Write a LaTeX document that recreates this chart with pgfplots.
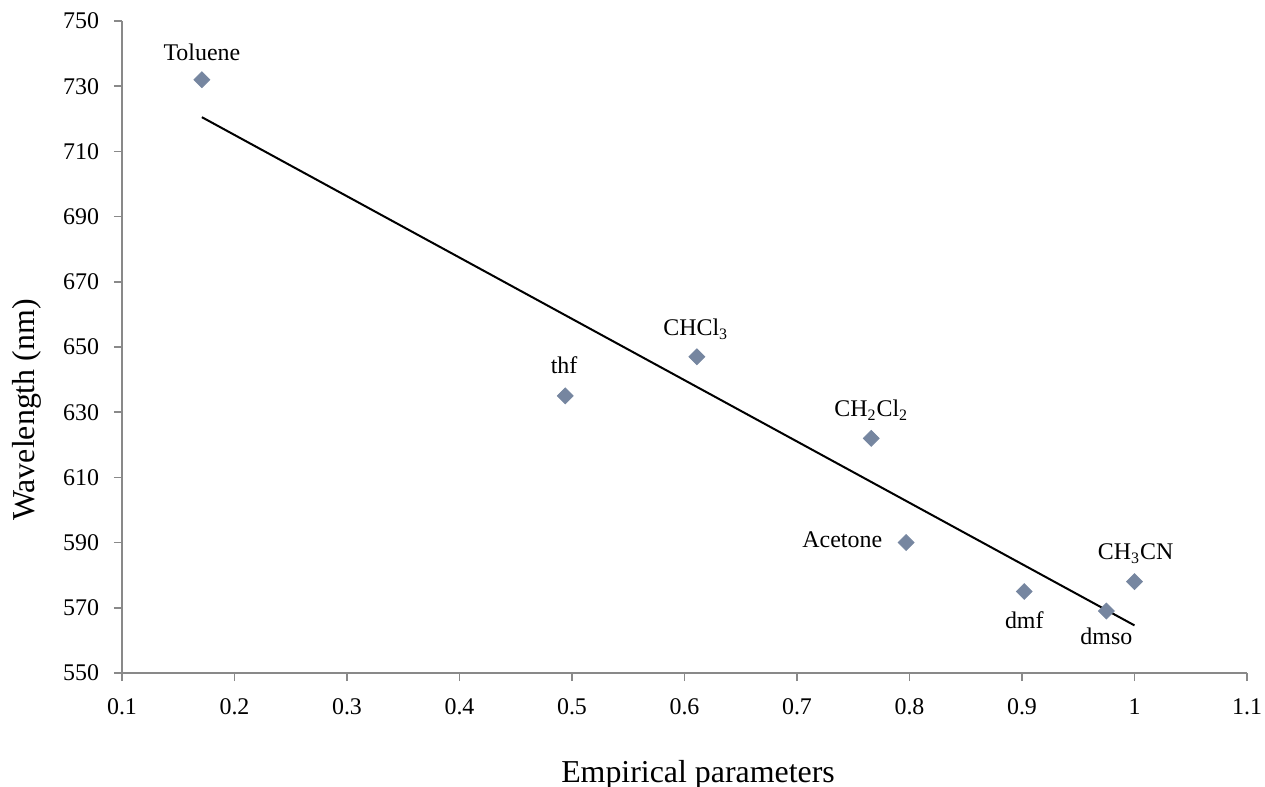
\documentclass[border=0pt]{standalone}
\usepackage{pgfplots}
\pgfplotsset{compat=1.18}
\usepackage{fontspec}
\setmainfont{Liberation Serif}
\definecolor{axgray}{RGB}{137,137,137}
\definecolor{mk}{RGB}{118,134,160}
\begin{document}
\begin{tikzpicture}
\begin{axis}[
  scale only axis, width=562.5bp, height=326bp,
  at={(0,0)}, anchor=south west,
  xmin=0.1, xmax=1.1, ymin=550, ymax=750,
  axis x line*=bottom, axis y line*=left,
  axis line style={axgray, line width=0.75bp},
  xtick={0.1,0.2,0.3,0.4,0.5,0.6,0.7,0.8,0.9,1,1.1},
  ytick={550,570,590,610,630,650,670,690,710,730,750},
  tick align=outside, major tick length=4bp,
  tick style={axgray, line width=0.75bp},
  ticklabel style={font=\fontsize{12}{14}\selectfont, text=black},
  yticklabel style={xshift=-4bp},
  xticklabel style={yshift=-5.5bp},
  /pgf/number format/assume math mode=true,
  clip=false,
]
\addplot[only marks, mark=square*, mark size=2.8bp, mark options={rotate=45, fill=mk, draw=mk}] coordinates {
  (0.171,732) (0.494,635) (0.611,647) (0.766,622) (0.797,590) (0.902,575) (0.975,569) (1.0,578)
};
\addplot[black, line width=1bp, mark=none] coordinates {(0.171,720.5) (1.0,564.6)};
\begin{scope}[every node/.style={font=\fontsize{12}{14}\selectfont}]
\node[anchor=base] at (axis cs:0.171,738) {Toluene};
\node[anchor=base] at (axis cs:0.493,641.9) {thf};
\node[anchor=base] at (axis cs:0.610,653.4) {CHCl\textsubscript{3}};
\node[anchor=base] at (axis cs:0.766,628.6) {CH\textsubscript{2}Cl\textsubscript{2}};
\node[anchor=base east, inner sep=0pt] at (axis cs:0.776,588.6) {Acetone};
\node[anchor=base] at (axis cs:0.902,563.7) {dmf};
\node[anchor=base] at (axis cs:0.975,558.6) {dmso};
\node[anchor=base] at (axis cs:1.001,584.7) {CH\textsubscript{3}CN};
\end{scope}
\end{axis}
\node[rotate=90, font=\fontsize{16}{19}\selectfont] at (-47.5bp,131.5bp) {Wavelength (nm)};
\node[anchor=base, font=\fontsize{16}{19}\selectfont] at (288bp,-54.5bp) {Empirical parameters};
\pgfresetboundingbox
\path[use as bounding box] (-61bp,-57bp) rectangle (571.5bp,336.5bp);
\end{tikzpicture}
\end{document}
